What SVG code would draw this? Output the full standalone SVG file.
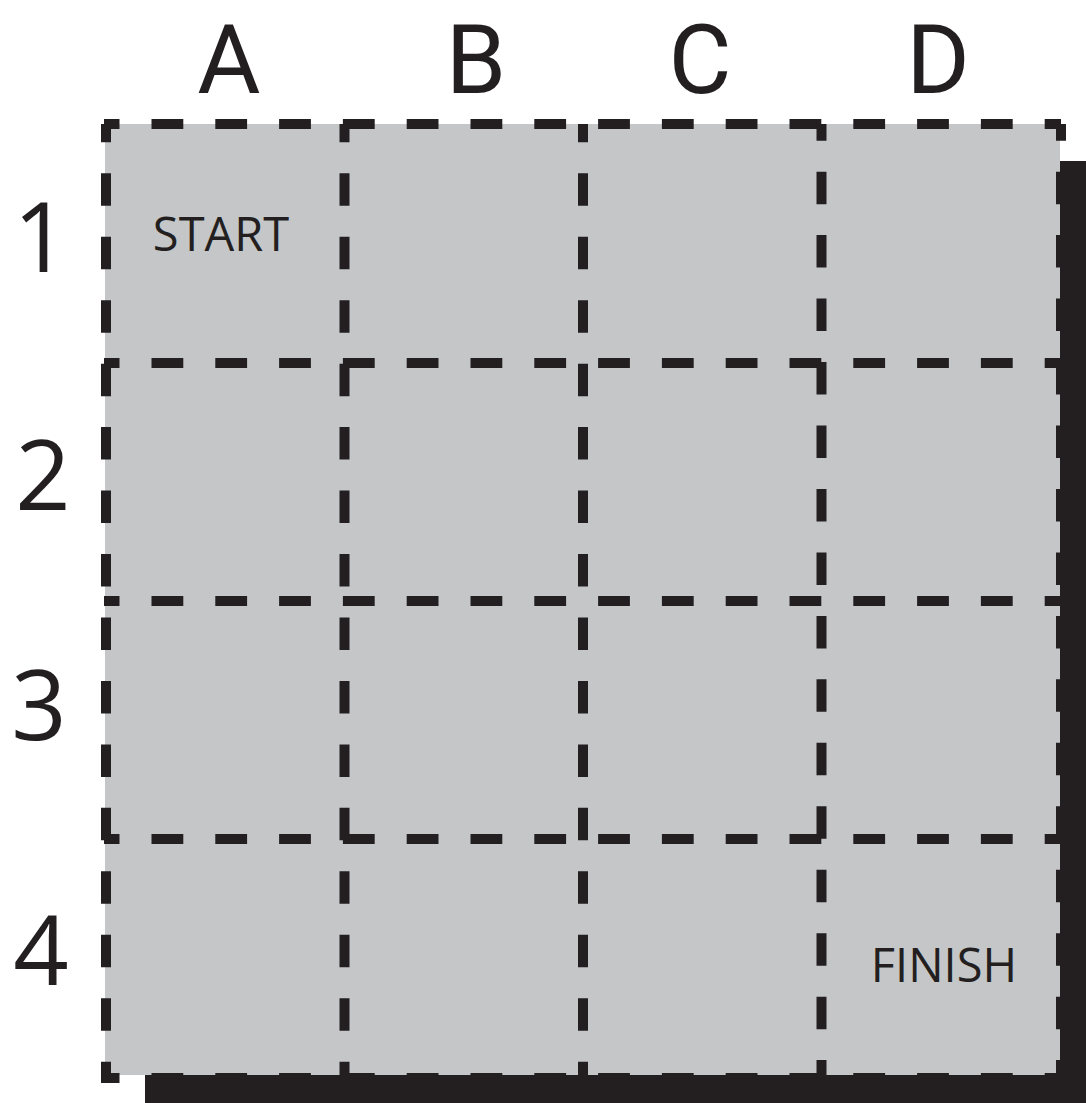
<svg xmlns="http://www.w3.org/2000/svg" width="1086" height="1103" viewBox="0 0 1086 1103">
  <style>
    .h { stroke: #231F20; stroke-width: 10; stroke-dasharray: 31.8 32; stroke-dashoffset: 16.3; fill: none; }
    .v { stroke: #231F20; stroke-width: 10; stroke-dasharray: 32.5 30.96; stroke-dashoffset: 14.2; fill: none; }
    .v2 { stroke-dashoffset: 15.8; }
    .big { font-family: "Open Sans", "Noto Sans", "Liberation Sans", sans-serif; font-size: 97px; fill: #231F20; text-anchor: middle; }
    .col { font-family: Roboto, "Liberation Sans", sans-serif; font-size: 97px; fill: #231F20; text-anchor: middle; }
    .small { font-family: "Open Sans", "Noto Sans", "Liberation Sans", sans-serif; font-size: 47px; fill: #231F20; text-anchor: middle; }
  </style>
  <g id="board">
    <rect id="shadow" x="145" y="161" width="941" height="942" fill="#231F20"/>
    <rect id="surface" x="105" y="124" width="955" height="951" fill="#C5C6C8"/>
  </g>
  <g id="grid-lines">
    <line class="h" x1="104" y1="124" x2="1061" y2="124"/>
    <line class="h" x1="104" y1="363" x2="1061" y2="363"/>
    <line class="h" x1="104" y1="601" x2="1061" y2="601"/>
    <line class="h" x1="104" y1="839" x2="1061" y2="839"/>
    <line class="h" x1="104" y1="1078" x2="1061" y2="1078"/>
    <line class="v" x1="106" y1="124" x2="106" y2="1083"/>
    <line class="v" x1="344.5" y1="124" x2="344.5" y2="1083"/>
    <line class="v" x1="583" y1="124" x2="583" y2="1083"/>
    <line class="v v2" x1="821.5" y1="124" x2="821.5" y2="1083"/>
    <line class="v v2" x1="1061" y1="124" x2="1061" y2="1083"/>
  </g>
  <g id="shadow-edge">
    <rect x="1060" y="161" width="26" height="942" fill="#231F20"/>
    <rect x="145" y="1075" width="941" height="28" fill="#231F20"/>
  </g>
  <g id="column-labels">
    <text class="col" x="229" y="93">A</text>
    <text class="col" x="476" y="93">B</text>
    <text class="col" x="700" y="93">C</text>
    <text class="col" x="938" y="93">D</text>
  </g>
  <g id="row-labels">
    <text class="big" x="41" y="272">1</text>
    <text class="big" x="43" y="510">2</text>
    <text class="big" x="39" y="740">3</text>
    <text class="big" x="41" y="985">4</text>
  </g>
  <g id="start">
    <text class="small" x="221" y="251">START</text>
  </g>
  <g id="finish">
    <text class="small" x="944" y="982">FINISH</text>
  </g>
</svg>
